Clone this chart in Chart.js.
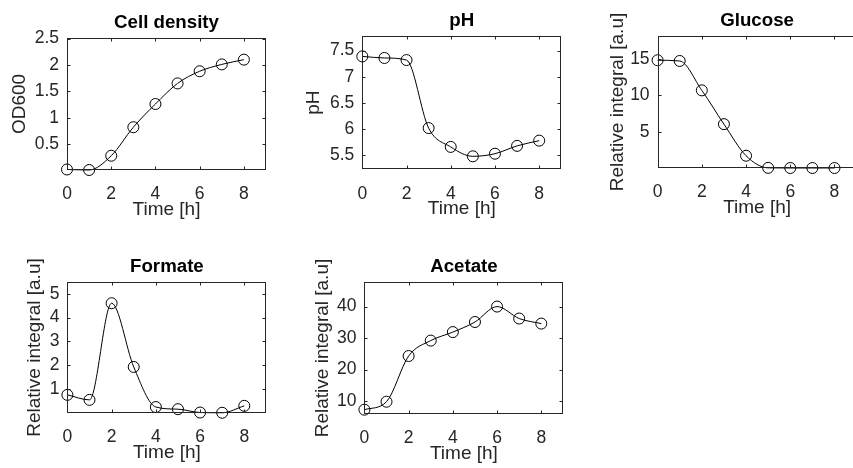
<!DOCTYPE html>
<html>
<head>
<meta charset="utf-8">
<script src="https://cdn.jsdelivr.net/npm/chart.js@4/dist/chart.umd.min.js"></script>
<style>
    html, body { margin: 0; padding: 0; background: #fff; overflow: hidden; }
    #wrap { position: relative; width: 853px; height: 468px; overflow: hidden; }
    #wrap canvas { position: absolute; }
</style>
</head>
<body>
<div id="wrap"></div>
<script>
/* ---------- DATA ---------- */
const time = [0, 1, 2, 3, 4, 5, 6, 7, 8];
const xTicks = [0, 2, 4, 6, 8];

const cellDensity = [0.02, 0.01, 0.28, 0.82, 1.26, 1.65, 1.88, 2.01, 2.10];
const pH = [7.39, 7.36, 7.32, 6.02, 5.66, 5.48, 5.53, 5.68, 5.78];
const glucose = [14.8, 14.7, 10.7, 6.1, 1.8, 0.15, 0.13, 0.13, 0.13];
const formate = [0.76, 0.55, 4.6, 1.93, 0.25, 0.16, 0.02, 0.01, 0.3];
const acetate = [7.27, 9.8, 24.3, 29.2, 31.9, 35.1, 40.0, 36.2, 34.6];

const cellTicks = [0.5, 1, 1.5, 2, 2.5];
const pHTicks = [5.5, 6, 6.5, 7, 7.5];
const glucoseTicks = [5, 10, 15];
const formateTicks = [1, 2, 3, 4, 5];
const acetateTicks = [10, 20, 30, 40];

const panels = [
    { title: "Cell density", yLabel: "OD600", values: cellDensity, yTicks: cellTicks, yMin: 0.01, yMax: 2.51,
      box: { left: 67, top: 38, width: 199, height: 132 }, yAxisWidth: 63 },
    { title: "pH", yLabel: "pH", values: pH, yTicks: pHTicks, yMin: 5.232, yMax: 7.78,
      box: { left: 362.5, top: 36, width: 199, height: 133.3 }, yAxisWidth: 64.3 },
    { title: "Glucose", yLabel: "Relative integral [a.u]", values: glucose, yTicks: glucoseTicks, yMin: 0.13, yMax: 18.1,
      box: { left: 657.7, top: 35.7, width: 199, height: 132 }, yAxisWidth: 55.6 },
    { title: "Formate", yLabel: "Relative integral [a.u]", values: formate, yTicks: formateTicks, yMin: 0, yMax: 5.49,
      box: { left: 67.3, top: 282.3, width: 199, height: 131 }, yAxisWidth: 48.4 },
    { title: "Acetate", yLabel: "Relative integral [a.u]", values: acetate, yTicks: acetateTicks, yMin: 5.9, yMax: 47.8,
      box: { left: 364, top: 281.7, width: 199, height: 132 }, yAxisWidth: 57.4 }
];

/* ---------- STYLE ---------- */
const FONT = "'Liberation Sans', Arial, Helvetica, sans-serif";
const AXIS_COLOR = "#262626";
const TOP_PAD = 45;
const RIGHT_PAD = 8;
const X_AXIS_HEIGHT = 55;
const TICK_LEN = 3;

/* box, inward ticks and bold title, like a matlab axes */
const axesBoxPlugin = {
    id: "axesBox",
    afterDraw(chart, args, opts) {
        const { ctx, chartArea: a, scales } = chart;
        const l = Math.round(a.left) + 0.5, r = Math.round(a.right) - 0.5;
        const t = Math.round(a.top) + 0.5, b = Math.round(a.bottom) - 0.5;
        ctx.save();
        ctx.strokeStyle = AXIS_COLOR;
        ctx.lineWidth = 1;
        ctx.strokeRect(l, t, r - l, b - t);

        ctx.beginPath();
        scales.x.ticks.forEach(tk => {
            const px = Math.round(scales.x.getPixelForValue(tk.value)) + 0.5;
            ctx.moveTo(px, b); ctx.lineTo(px, b - TICK_LEN);
            ctx.moveTo(px, t); ctx.lineTo(px, t + TICK_LEN);
        });
        scales.y.ticks.forEach(tk => {
            const py = Math.round(scales.y.getPixelForValue(tk.value)) + 0.5;
            ctx.moveTo(l, py); ctx.lineTo(l + TICK_LEN, py);
            ctx.moveTo(r, py); ctx.lineTo(r - TICK_LEN, py);
        });
        ctx.stroke();

        ctx.fillStyle = "#000";
        ctx.font = "bold 18.7px " + FONT;
        ctx.textAlign = "center";
        ctx.textBaseline = "alphabetic";
        ctx.fillText(opts.text, (a.left + a.right) / 2, a.top - 10);
        ctx.restore();
    }
};

/* ---------- BUILD ---------- */
function buildPanel(p) {
    const canvas = document.createElement("canvas");
    const w = Math.ceil(p.yAxisWidth + p.box.width + RIGHT_PAD);
    const h = Math.ceil(TOP_PAD + p.box.height + X_AXIS_HEIGHT);
    canvas.width = w;
    canvas.height = h;
    canvas.style.width = w + "px";
    canvas.style.height = h + "px";
    canvas.style.left = (p.box.left - p.yAxisWidth) + "px";
    canvas.style.top = (p.box.top - TOP_PAD) + "px";
    document.getElementById("wrap").appendChild(canvas);

    const tickFont = { family: FONT, size: 17.5 };
    const labelFont = { family: FONT, size: 19 };
    const plain = v => String(v);

    new Chart(canvas.getContext("2d"), {
        type: "line",
        data: {
            datasets: [{
                data: time.map((t, i) => ({ x: t, y: p.values[i] })),
                borderColor: "#000",
                borderWidth: 1,
                cubicInterpolationMode: "monotone",
                pointStyle: "circle",
                pointRadius: 5.5,
                pointBorderWidth: 1,
                pointBorderColor: "#000",
                pointBackgroundColor: "rgba(0,0,0,0)",
                clip: false
            }]
        },
        options: {
            responsive: false,
            animation: false,
            events: [],
            layout: { padding: { top: TOP_PAD, right: w - p.yAxisWidth - p.box.width, left: 0, bottom: h - TOP_PAD - p.box.height - X_AXIS_HEIGHT } },
            plugins: {
                legend: { display: false },
                tooltip: { enabled: false },
                axesBox: { text: p.title }
            },
            scales: {
                x: {
                    type: "linear",
                    min: 0,
                    max: 9,
                    afterBuildTicks: s => { s.ticks = xTicks.map(v => ({ value: v })); },
                    afterFit: s => { s.height = X_AXIS_HEIGHT; },
                    grid: { display: false, drawTicks: false },
                    border: { display: false },
                    ticks: { padding: 14, color: AXIS_COLOR, font: tickFont, callback: plain },
                    title: { display: true, text: "Time [h]", color: AXIS_COLOR, font: labelFont }
                },
                y: {
                    type: "linear",
                    min: p.yMin,
                    max: p.yMax,
                    afterBuildTicks: s => { s.ticks = p.yTicks.map(v => ({ value: v })); },
                    afterFit: s => { s.width = p.yAxisWidth; },
                    grid: { display: false, drawTicks: false },
                    border: { display: false },
                    ticks: { padding: 8, color: AXIS_COLOR, font: tickFont, callback: plain },
                    title: { display: true, text: p.yLabel, color: AXIS_COLOR, font: labelFont }
                }
            }
        },
        plugins: [axesBoxPlugin]
    });
}

panels.forEach(buildPanel);
</script>
</body>
</html>
